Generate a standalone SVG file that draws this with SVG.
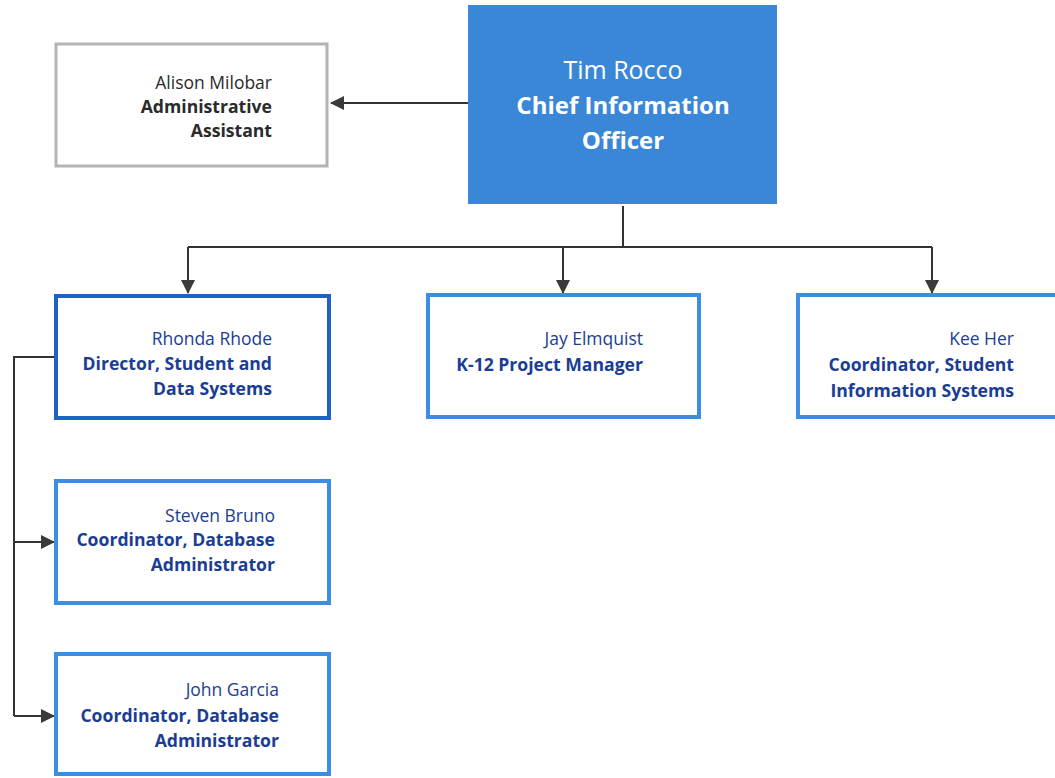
<svg xmlns="http://www.w3.org/2000/svg" width="1055" height="778" viewBox="0 0 1055 778">
<defs>
<marker id="ah" viewBox="0 0 14 14" refX="13" refY="7" markerWidth="14" markerHeight="14" markerUnits="userSpaceOnUse" orient="auto">
<path d="M0,0 L14,7 L0,14 z" fill="#3a3a3a"/>
</marker>
</defs>
<style>
.box{fill:#ffffff;stroke:#3d8ee0;stroke-width:4}
.dir{fill:#ffffff;stroke:#1f63c2;stroke-width:4}
.gray{fill:#ffffff;stroke:#b4b4b4;stroke-width:3}
.t{font-family:"Open Sans","Liberation Sans",sans-serif;font-size:17.5px;fill:#1b3d94;text-anchor:end}
.b{font-weight:bold;font-size:17.6px}
.k{fill:#2b2b2b}
.w{fill:#ffffff;text-anchor:middle}
.ln{fill:none;stroke:#333333;stroke-width:2}
</style>
<rect width="1055" height="778" fill="#ffffff"/>
<g id="connectors">
<path class="ln" d="M468,103 L331,103" marker-end="url(#ah)"/>
<path class="ln" d="M623,206 L623,247 M188,247 L932,247"/>
<path class="ln" d="M188,247 L188,293" marker-end="url(#ah)"/>
<path class="ln" d="M563,247 L563,293" marker-end="url(#ah)"/>
<path class="ln" d="M932,247 L932,293" marker-end="url(#ah)"/>
<path class="ln" d="M55,357 L14,357 L14,716"/>
<path class="ln" d="M14,542 L54,542" marker-end="url(#ah)"/>
<path class="ln" d="M14,716 L54,716" marker-end="url(#ah)"/>
</g>
<g id="cio">
<rect x="468" y="5" width="309" height="199" fill="#3a87d8"/>
<text class="t w" x="623" y="79" style="font-size:25px">Tim Rocco</text>
<text class="t w b" x="623" y="114" style="font-size:24px">Chief Information</text>
<text class="t w b" x="623" y="149" style="font-size:24px">Officer</text>
</g>
<g id="alison">
<rect class="gray" x="56" y="44" width="271" height="122"/>
<text class="t k" x="272" y="89">Alison Milobar</text>
<text class="t k b" x="272" y="113">Administrative</text>
<text class="t k b" x="272" y="137">Assistant</text>
</g>
<g id="rhonda">
<rect class="dir" x="56" y="296" width="273" height="122"/>
<text class="t" x="272" y="345">Rhonda Rhode</text>
<text class="t b" x="272" y="370">Director, Student and</text>
<text class="t b" x="272" y="395">Data Systems</text>
</g>
<g id="jay">
<rect class="box" x="428" y="295" width="271" height="122"/>
<text class="t" x="643" y="345">Jay Elmquist</text>
<text class="t b" x="643" y="371">K-12 Project Manager</text>
</g>
<g id="kee">
<rect class="box" x="798" y="295" width="265" height="122"/>
<text class="t" x="1014" y="345">Kee Her</text>
<text class="t b" x="1014" y="371">Coordinator, Student</text>
<text class="t b" x="1014" y="397">Information Systems</text>
</g>
<g id="steven">
<rect class="box" x="56" y="481" width="273" height="122"/>
<text class="t" x="275" y="522">Steven Bruno</text>
<text class="t b" x="275" y="546">Coordinator, Database</text>
<text class="t b" x="275" y="571">Administrator</text>
</g>
<g id="john">
<rect class="box" x="56" y="654" width="273" height="120"/>
<text class="t" x="279" y="696">John Garcia</text>
<text class="t b" x="279" y="722">Coordinator, Database</text>
<text class="t b" x="279" y="747">Administrator</text>
</g>
</svg>
